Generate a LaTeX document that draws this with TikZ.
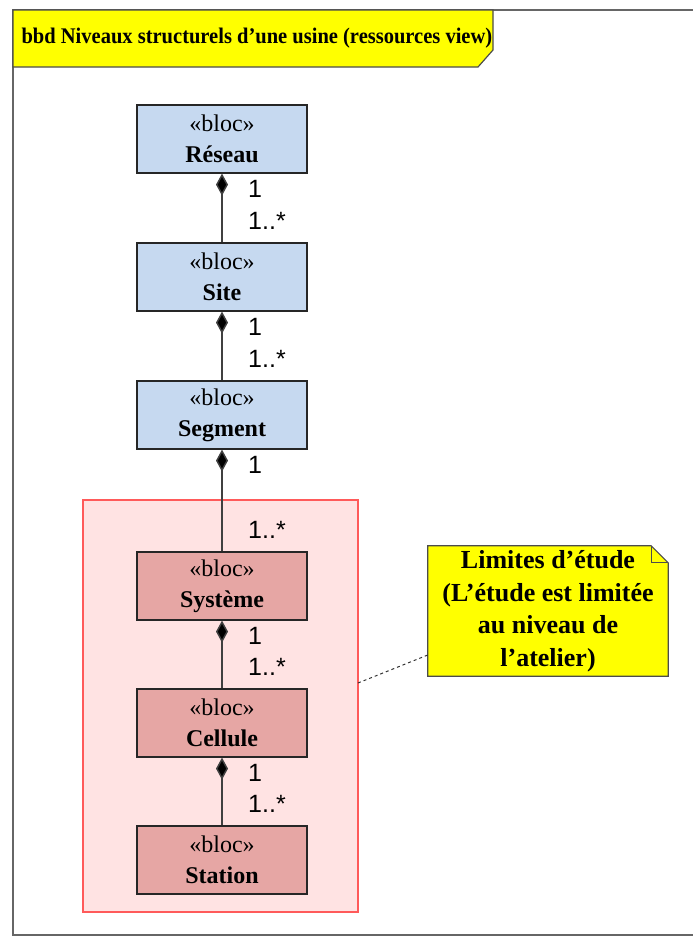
\documentclass[tikz,border=0pt]{standalone}
\usepackage{fontspec}
\setmainfont{Liberation Serif}
\newfontfamily\arial{Liberation Sans}
\newfontfamily\titrefont[FakeStretch=0.92]{Liberation Serif}
\usetikzlibrary{arrows.meta,positioning,calc}
\definecolor{blocbleu}{RGB}{198,217,240}
\definecolor{blocrouge}{RGB}{230,166,164}
\definecolor{zonerose}{RGB}{255,227,227}
\definecolor{zonerouge}{RGB}{255,90,90}
\definecolor{trait}{RGB}{64,64,64}
\definecolor{jaune}{RGB}{255,255,0}

\tikzset{
  bloc/.style={draw=black!85,line width=1.2pt,minimum width=170pt,minimum height=68pt,
    align=center,inner sep=0pt,font=\fontsize{24}{31}\selectfont},
  compo/.style={draw=trait,line width=1.5pt,{Diamond[length=22pt,width=12pt,fill=black]}-},
  mult/.style={font=\arial\fontsize{25}{26}\selectfont,anchor=west,inner sep=0pt},
  notetexte/.style={align=center,inner sep=0pt,font=\fontsize{26}{32.5}\selectfont\bfseries}
}

\begin{document}
\begin{tikzpicture}[x=1pt,y=-1pt]
    \useasboundingbox (0,0) rectangle (693,938);
    \coordinate (HautDroit) at (693,10);
    \coordinate (HautGauche) at (13,10);
    \coordinate (BasGauche) at (13,935);
    \coordinate (BasDroit) at (693,935);

    % cadre du diagramme et son entete
    \draw[black!60,line width=1.5pt] (HautDroit) -- (HautGauche) -- (BasGauche) -- (BasDroit);
    \draw[fill=jaune,draw=black!70,line width=1.2pt] (13,10) -- (493,10) -- (493,50) -- (478,67) -- (13,67) -- cycle;
    \node[anchor=west,font=\titrefont\fontsize{22.3}{24}\selectfont\bfseries] (titre) at (18,38)
        {bbd Niveaux structurels d’une usine (ressources view)};

    % zone d'etude
    \node[draw=zonerouge,fill=zonerose,line width=1.2pt,minimum width=275pt,minimum height=412pt,
        inner sep=0pt] (zone) at (220.5,706) {};

    \foreach \nom/\texte/\y/\couleur in {reseau/Réseau/139/blocbleu,site/Site/277/blocbleu,
        segment/Segment/415/blocbleu,systeme/Système/586/blocrouge,
        cellule/Cellule/723/blocrouge,station/Station/860/blocrouge}{% un bloc par niveau
      \node[bloc,fill=\couleur] (\nom) at (222,\y) {«bloc»\\\textbf{\texte}};
    }

    \foreach \a/\b in {reseau/site,site/segment,segment/systeme,systeme/cellule,cellule/station}{% composition
      \draw[compo] (\a.south) -- (\b.north);
      \node[mult] (un\a) at ([xshift=26pt,yshift=-15pt]\a.south) {1};
      \node[mult] (plus\b) at ([xshift=26pt,yshift=22pt]\b.north) {1..*};
    }

    % note
    \node[minimum width=240pt,minimum height=130pt,inner sep=0pt] (note) at (548,611) {};
    \draw[fill=jaune,draw=black!70,line width=1.2pt] (note.north west) -- ([xshift=-17pt]note.north east)
        -- ([yshift=-17pt]note.north east) -- (note.south east) -- (note.south west) -- cycle;
    \draw[black!70,line width=1pt] ([xshift=-17pt]note.north east) |- ([yshift=-17pt]note.north east);
    \node[notetexte] (notetxt) at (note.center)
        {Limites d’étude\\(L’étude est limitée\\au niveau de\\l’atelier)};
    \coordinate (lien) at (358,683);
    \draw[dashed,black!80,line width=1pt] (lien) -- ([yshift=-44pt]note.west);
\end{tikzpicture}
\end{document}
